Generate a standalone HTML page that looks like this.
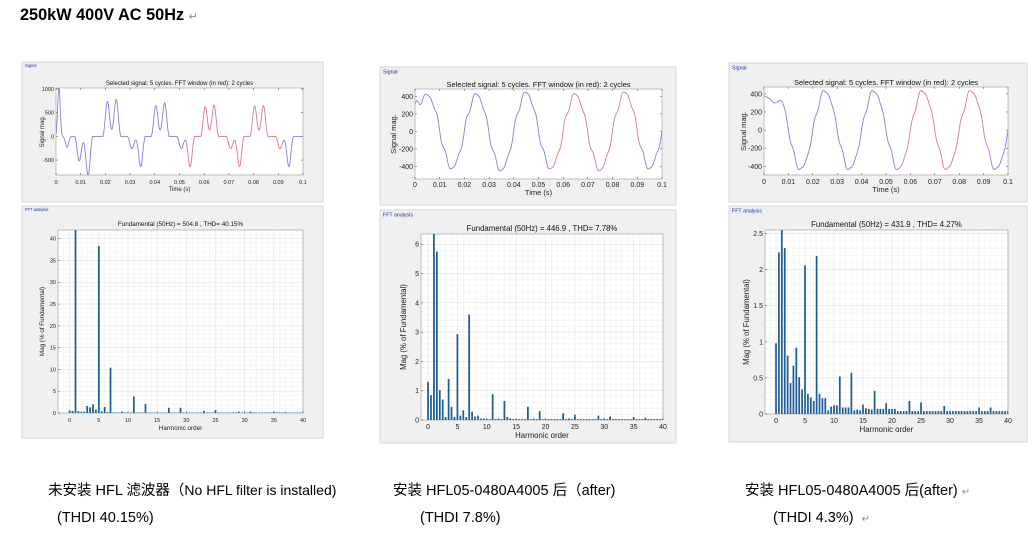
<!DOCTYPE html>
<html><head><meta charset="utf-8">
<style>
html,body{margin:0;padding:0;background:#fff;width:1034px;height:534px;overflow:hidden}
.t{position:absolute;font-family:"Liberation Sans","Noto Sans CJK SC",sans-serif;color:#000;white-space:nowrap}
svg{position:absolute;left:0;top:0}
</style></head><body>
<svg id="s" width="1034" height="534" xmlns="http://www.w3.org/2000/svg"></svg>
<div class="t" style="left:20px;top:6px;font-size:16.3px;font-weight:bold">250kW 400V AC 50Hz <span style="font-weight:normal;color:#888;font-size:11px">↵</span></div>
<div class="t" style="left:48px;top:479px;font-size:14.5px">未安装 HFL 滤波器（<span style="font-size:14px">No HFL filter is installed)</span></div>
<div class="t" style="left:57px;top:510px;font-size:14.5px">(THDI 40.15%)</div>
<div class="t" style="left:393px;top:479px;font-size:14.5px">安装 HFL05-0480A4005 后（after)</div>
<div class="t" style="left:420px;top:510px;font-size:14.5px">(THDI 7.8%)</div>
<div class="t" style="left:745px;top:479px;font-size:14.5px">安装 HFL05-0480A4005 后(after) <span style="color:#888;font-size:10px">↵</span></div>
<div class="t" style="left:773px;top:510px;font-size:14.5px">(THDI 4.3%) &nbsp;<span style="color:#888;font-size:10px">↵</span></div>
<script>
var out='';var cid=0;
var FF='font-family="Liberation Sans, sans-serif"';
function R(x,y,w,h,f,s,sw){out+='<rect x="'+x+'" y="'+y+'" width="'+w+'" height="'+h+'" fill="'+f+'" stroke="'+(s||'none')+'" stroke-width="'+(sw||0.7)+'"/>';}
function L(x1,y1,x2,y2,c,w){out+='<line x1="'+x1+'" y1="'+y1+'" x2="'+x2+'" y2="'+y2+'" stroke="'+c+'" stroke-width="'+(w||0.5)+'"/>';}
function T(x,y,s,fs,a,c,rot){out+='<text x="'+x+'" y="'+y+'" font-size="'+fs+'" '+FF+' text-anchor="'+(a||'middle')+'" fill="'+(c||'#222')+'"'+(rot?' transform="rotate(-90 '+x+' '+y+')"':'')+'>'+s+'</text>';}
function box(b,label,fs){R(b.x,b.y,b.w,b.h,'#f0f0f0','#d6d6d6',1);T(b.x+3,b.y+fs*0.9,label,fs*0.75,'start','#1a2fa0');}
function g(v){return Math.exp(-v*v);}
function sig(p){
  var a=p.ax,fs=p.fs;
  box(p.box,'Signal',fs);
  R(a.x0,a.y0,a.x1-a.x0,a.y1-a.y0,'#fff','#999',0.6);
  var X=function(t){return a.x0+(t-0)/0.1*(a.x1-a.x0)};
  var Y=function(v){return a.y1-(v-a.ymin)/(a.ymax-a.ymin)*(a.y1-a.y0)};
  for(var i=0;i<=10;i++){var x=X(i*0.01);L(x,a.y1,x,a.y1-2,'#444');L(x,a.y0,x,a.y0+2,'#444');T(x,p.xty,i==0?'0':i==10?'0.1':(i/100).toFixed(2),fs,'middle');}
  a.yt.forEach(function(v){var y=Y(v);L(a.x0,y,a.x0+2,y,'#444');L(a.x1,y,a.x1-2,y,'#444');T(a.x0-2,y+fs*0.35,v,fs,'end');});
  T((a.x0+a.x1)/2,p.ty,'Selected signal: 5 cycles. FFT window (in red): 2 cycles',fs+0.5,'middle','#111');
  T((a.x0+a.x1)/2,p.xly,'Time (s)',fs+0.5,'middle');
  T(p.ylx,(a.y0+a.y1)/2,'Signal mag.',fs+0.5,'middle','#222',1);
  cid++;out+='<clipPath id="c'+cid+'"><rect x="'+a.x0+'" y="'+a.y0+'" width="'+(a.x1-a.x0)+'" height="'+(a.y1-a.y0)+'"/></clipPath>';
  var b='',r='',b2='';
  for(var k=0;k<=1000;k++){var t=k*0.0001;var pt=X(t).toFixed(1)+','+Y(p.f(t)).toFixed(1)+' ';
    if(t<p.r0)b+=pt; else if(t<=p.r1)r+=pt; else b2+=pt;
    if(Math.abs(t-p.r0)<0.00005){b+=pt;} if(Math.abs(t-p.r1)<0.00005){b2+=pt;}}
  out+='<g clip-path="url(#c'+cid+')" fill="none" stroke-width="0.9"><polyline points="'+b+'" stroke="#8080e0"/><polyline points="'+r+'" stroke="#d9788a"/><polyline points="'+b2+'" stroke="#8080e0"/></g>';
}
function fft(p){
  var a=p.ax,fs=p.fs;
  box(p.box,'FFT analysis',fs);
  R(a.x0,a.y0,a.x1-a.x0,a.y1-a.y0,'#fff','none');
  var X=function(h){return a.x0+(h-a.xmin)/(a.xmax-a.xmin)*(a.x1-a.x0)};
  var Y=function(v){return a.y1-v/a.ymax*(a.y1-a.y0)};
  for(var h=Math.ceil(a.xmin);h<=40;h++){var x=X(h);L(x,a.y0,x,a.y1,h%5==0?'#dcdcdc':'#efefef',0.5);}
  for(var v=0;v<=a.ymax+1e-9;v+=a.ym){var y=Y(v);L(a.x0,y,a.x1,y,'#efefef',0.5);}
  a.yt.forEach(function(v){var y=Y(v);L(a.x0,y,a.x1,y,'#dcdcdc',0.5);});
  R(a.x0,a.y0,a.x1-a.x0,a.y1-a.y0,'none','#999',0.6);
  for(var h=0;h<=40;h+=5){var x=X(h);L(x,a.y1,x,a.y1-2,'#444');T(x,p.xty,h,fs,'middle');}
  a.yt.forEach(function(v){var y=Y(v);L(a.x0,y,a.x0+2,y,'#444');T(a.x0-2,y+fs*0.35,v,fs,'end');});
  var bw=0.3/(a.xmax-a.xmin)*(a.x1-a.x0);
  cid++;out+='<clipPath id="c'+cid+'"><rect x="'+a.x0+'" y="'+a.y0+'" width="'+(a.x1-a.x0)+'" height="'+(a.y1-a.y0)+'"/></clipPath><g clip-path="url(#c'+cid+')">';
  for(var i=0;i<=80;i++){var h=i/2;var v=p.d[h]!==undefined?p.d[h]:p.def;var y=Y(v);out+='<rect x="'+(X(h)-bw/2).toFixed(2)+'" y="'+y.toFixed(2)+'" width="'+bw.toFixed(2)+'" height="'+(a.y1-y).toFixed(2)+'" fill="#1d5f94"/>';}
  out+='</g>';
  T((a.x0+a.x1)/2,p.ty,p.title,fs+0.8,'middle','#111');
  T((a.x0+a.x1)/2,p.xly,'Harmonic order',fs+0.8,'middle');
  T(p.ylx,(a.y0+a.y1)/2,'Mag (% of Fundamental)',fs+0.8,'middle','#222',1);
}
function half(t,c,a1,a2){var u=(t-c)/0.0036;if(Math.abs(u)>=1)return 0;var w=1-Math.pow(u,8);return w*(a1*g((u+0.5)/0.33)+a2*g((u-0.5)/0.33));}
function f1(t){var y=1050*g((t-0.0012)/0.0007)-230*g((t-0.0045)/0.0009);
  y+=half(t,0.0112,-520,-830);
  [0.0226,0.0422,0.0622,0.0822].forEach(function(c,i){y+=half(t,c,[740,650,630,640][i],[780,710,660,650][i]);});
  [0.0325,0.0525,0.0725,0.0925].forEach(function(c){y+=half(t,c,-260,-640);});
  return y;}
function f2(t){var w=2*Math.PI*50;return 430*Math.sin(w*t)+25*Math.sin(5*w*t+0.5)+18*Math.sin(7*w*t)+330*Math.exp(-t/0.0025)*Math.cos(w*t*1.5)*0.9+15*Math.sin(w*t*0.5);}
function ss(a,b,t){var x=Math.min(1,Math.max(0,(t-a)/(b-a)));return x*x*(3-2*x);}
function f3(t){var w=2*Math.PI*50;var s=430*Math.sin(w*(t-0.0001))+20*Math.sin(5*w*t+1)+15*Math.sin(7*w*t);
  var e=t<0.004?380-20000*t+10*Math.sin(Math.PI*t/0.004):300;
  var k=ss(0.0045,0.0095,t);return (1-k)*e+k*s;}
sig({box:{x:22,y:62,w:301,h:140},ax:{x0:56,x1:303,y0:88,y1:175,ymin:-815,ymax:1020,yt:[-500,0,500,1000]},fs:5.5,xty:184,xly:191,ty:85,ylx:44,f:f1,r0:0.053,r1:0.0915});
fft({box:{x:22,y:206,w:301,h:232},ax:{x0:58,x1:303,y0:230,y1:413,xmin:-2,xmax:40,ymax:42,yt:[0,5,10,15,20,25,30,35,40],ym:1},fs:5.5,xty:422,xly:430,ty:226,ylx:44,title:'Fundamental (50Hz) = 504.8 , THD= 40.15%',def:0.1,
 d:{0:0.6,0.5:0.5,1:45,1.5:0.4,2:0.3,2.5:0.3,3:1.6,3.5:1.3,4:2,4.5:0.8,5:38.3,5.5:0.4,6:1.4,6.5:0.2,7:10.4,9:0.3,11:3.8,13:2.1,17:1.2,19:1.2,23:0.5,25:0.7,29:0.3,31:0.3,35:0.2,37:0.2}});
sig({box:{x:380,y:67,w:296,h:138},ax:{x0:415,x1:662,y0:89,y1:179,ymin:-545,ymax:485,yt:[-400,-200,0,200,400]},fs:7,xty:187,xly:195,ty:87,ylx:396,f:f2,r0:0.0545,r1:0.0915});
fft({box:{x:380,y:210,w:296,h:233},ax:{x0:421,x1:663,y0:234,y1:420,xmin:-1.2,xmax:40,ymax:6.35,yt:[0,1,2,3,4,5,6],ym:0.2},fs:7,xty:429,xly:438,ty:231,ylx:406,title:'Fundamental (50Hz) = 446.9 , THD= 7.78%',def:0.03,
 d:{0:1.3,0.5:0.85,1:6.5,1.5:5.75,2:1.02,2.5:0.7,3:0.1,3.5:1.4,4:0.45,4.5:0.1,5:2.93,5.5:0.15,6:0.33,6.5:0.1,7:3.6,7.5:0.28,8:0.12,8.5:0.15,9:0.05,9.5:0.05,11:0.88,12:0.05,13:0.65,13.5:0.1,14:0.05,17:0.45,18:0.05,19:0.3,23:0.23,24:0.05,25:0.18,29:0.15,30:0.05,31:0.12,35:0.1,37:0.08}});
sig({box:{x:729,y:63,w:298,h:139},ax:{x0:764,x1:1008,y0:87,y1:175,ymin:-496,ymax:476,yt:[-400,-200,0,200,400]},fs:7,xty:184,xly:192,ty:85,ylx:746,f:f3,r0:0.0555,r1:0.0925});
fft({box:{x:729,y:206,w:298,h:236},ax:{x0:765,x1:1008,y0:230,y1:414,xmin:-1.9,xmax:40,ymax:2.55,yt:[0,0.5,1,1.5,2,2.5],ym:0.1},fs:7,xty:423,xly:432,ty:227,ylx:749,title:'Fundamental (50Hz) = 431.9 , THD= 4.27%',def:0.04,
 d:{0:0.98,0.5:2.24,1:2.6,1.5:2.3,2:0.81,2.5:0.43,3:0.67,3.5:0.92,4:0.51,4.5:0.34,5:2.06,5.5:0.28,6:0.23,6.5:0.18,7:2.19,7.5:0.28,8:0.22,8.5:0.22,9:0.05,9.5:0.1,10:0.12,10.5:0.12,11:0.52,11.5:0.09,12:0.09,12.5:0.09,13:0.57,13.5:0.05,14:0.06,14.5:0.05,15:0.13,15.5:0.08,16:0.07,16.5:0.06,17:0.32,17.5:0.07,18:0.07,18.5:0.07,19:0.15,19.5:0.07,20:0.07,20.5:0.07,23:0.18,25:0.16,29:0.11,35:0.09,37:0.09}});
document.getElementById('s').innerHTML=out;
</script>
</body></html>
